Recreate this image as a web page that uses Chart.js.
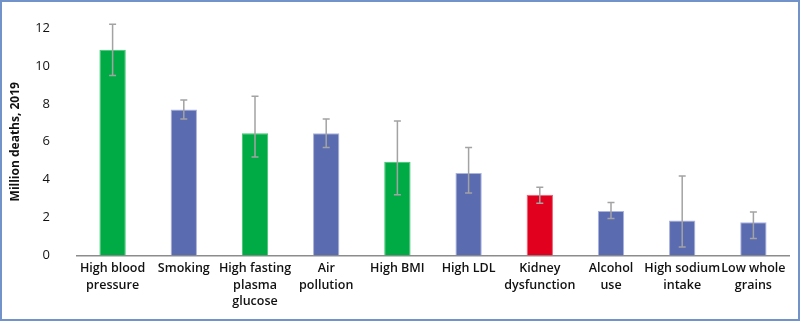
<!DOCTYPE html>
<html>
<head>
<meta charset="utf-8">
<script src="https://cdn.jsdelivr.net/npm/chart.js@4/dist/chart.umd.min.js"></script>
<style>
  html, body { margin: 0; padding: 0; background: #fff; }
  .frame {
    width: 800px; height: 321px; box-sizing: border-box;
    border: 2px solid #7293c9; position: relative;
  }
  canvas { display: block; }
</style>
</head>
<body>
<div class="frame">
  <canvas id="risk-chart" width="796" height="317"></canvas>
</div>
<script>
const categories = [
  ['High blood', 'pressure'],
  'Smoking',
  ['High fasting', 'plasma', 'glucose'],
  ['Air', 'pollution'],
  'High BMI',
  'High LDL',
  ['Kidney', 'dysfunction'],
  ['Alcohol', 'use'],
  ['High sodium', 'intake'],
  ['Low whole', 'grains'],
];
const deaths = [10.85, 7.7, 6.45, 6.45, 4.95, 4.35, 3.2, 2.35, 1.85, 1.75];
const lowerBound = [9.5, 7.2, 5.2, 5.7, 3.2, 3.3, 2.75, 1.95, 0.45, 0.9];
const upperBound = [12.2, 8.2, 8.4, 7.2, 7.1, 5.7, 3.6, 2.8, 4.2, 2.3];
// colour key per bar: g = green, b = blue, r = red
const barKeys = ['g', 'b', 'g', 'b', 'g', 'b', 'r', 'b', 'b', 'b'];
const yTicks = [0, 2, 4, 6, 8, 10, 12];

const fills = { g: '#00ab45', b: '#5b6bb0', r: '#e2001f' };
const edges = { g: '#3fc46e', b: '#aab4dd', r: '#f06070' };

const errorBars = {
  id: 'errorBars',
  afterDatasetsDraw(chart) {
    const { ctx, scales: { x, y } } = chart;
    ctx.save();
    ctx.strokeStyle = '#a3a3a3';
    ctx.lineWidth = 1.5;
    deaths.forEach((v, i) => {
      const cx = x.getPixelForValue(i);
      const top = y.getPixelForValue(upperBound[i]);
      const bottom = y.getPixelForValue(lowerBound[i]);
      ctx.beginPath();
      ctx.moveTo(cx, top);
      ctx.lineTo(cx, bottom);
      ctx.moveTo(cx - 3.5, top);
      ctx.lineTo(cx + 3.5, top);
      ctx.moveTo(cx - 3.5, bottom);
      ctx.lineTo(cx + 3.5, bottom);
      ctx.stroke();
    });
    ctx.restore();
  },
};

const ctx = document.getElementById('risk-chart').getContext('2d');
new Chart(ctx, {
  type: 'bar',
  data: {
    labels: categories,
    datasets: [{
      data: deaths,
      backgroundColor: barKeys.map((k) => fills[k]),
      borderColor: barKeys.map((k) => edges[k]),
      borderWidth: 1,
      categoryPercentage: 1,
      barPercentage: 0.37,
    }],
  },
  options: {
    responsive: false,
    animation: false,
    layout: { padding: { top: 26, right: 9, left: 6, bottom: 4 } },
    plugins: {
      legend: { display: false },
      tooltip: { enabled: false },
    },
    scales: {
      x: {
        grid: { display: false, drawTicks: false },
        border: { color: '#8c8c8c', width: 1.5 },
        ticks: {
          color: '#111',
          autoSkip: false,
          maxRotation: 0,
          padding: 5,
          font: { family: '"Open Sans", sans-serif', size: 12.5, weight: '600', lineHeight: 1.32 },
        },
      },
      y: {
        min: 0,
        max: 12,
        afterBuildTicks: (scale) => { scale.ticks = yTicks.map((value) => ({ value })); },
        afterFit: (scale) => {
          scale.width = 69;
          // the big tick padding would otherwise be added above and below the plot
          scale.paddingTop = 0;
          scale.paddingBottom = 0;
        },
        grid: { display: false, drawTicks: false },
        border: { display: false },
        ticks: {
          color: '#111',
          padding: 27,
          font: { family: '"Open Sans", sans-serif', size: 13 },
        },
        title: {
          display: true,
          text: 'Million deaths, 2019',
          color: '#111',
          padding: { top: 0, bottom: 0 },
          font: { family: '"Open Sans", sans-serif', size: 12, weight: 'bold' },
        },
      },
    },
  },
  plugins: [errorBars],
});
</script>
</body>
</html>
